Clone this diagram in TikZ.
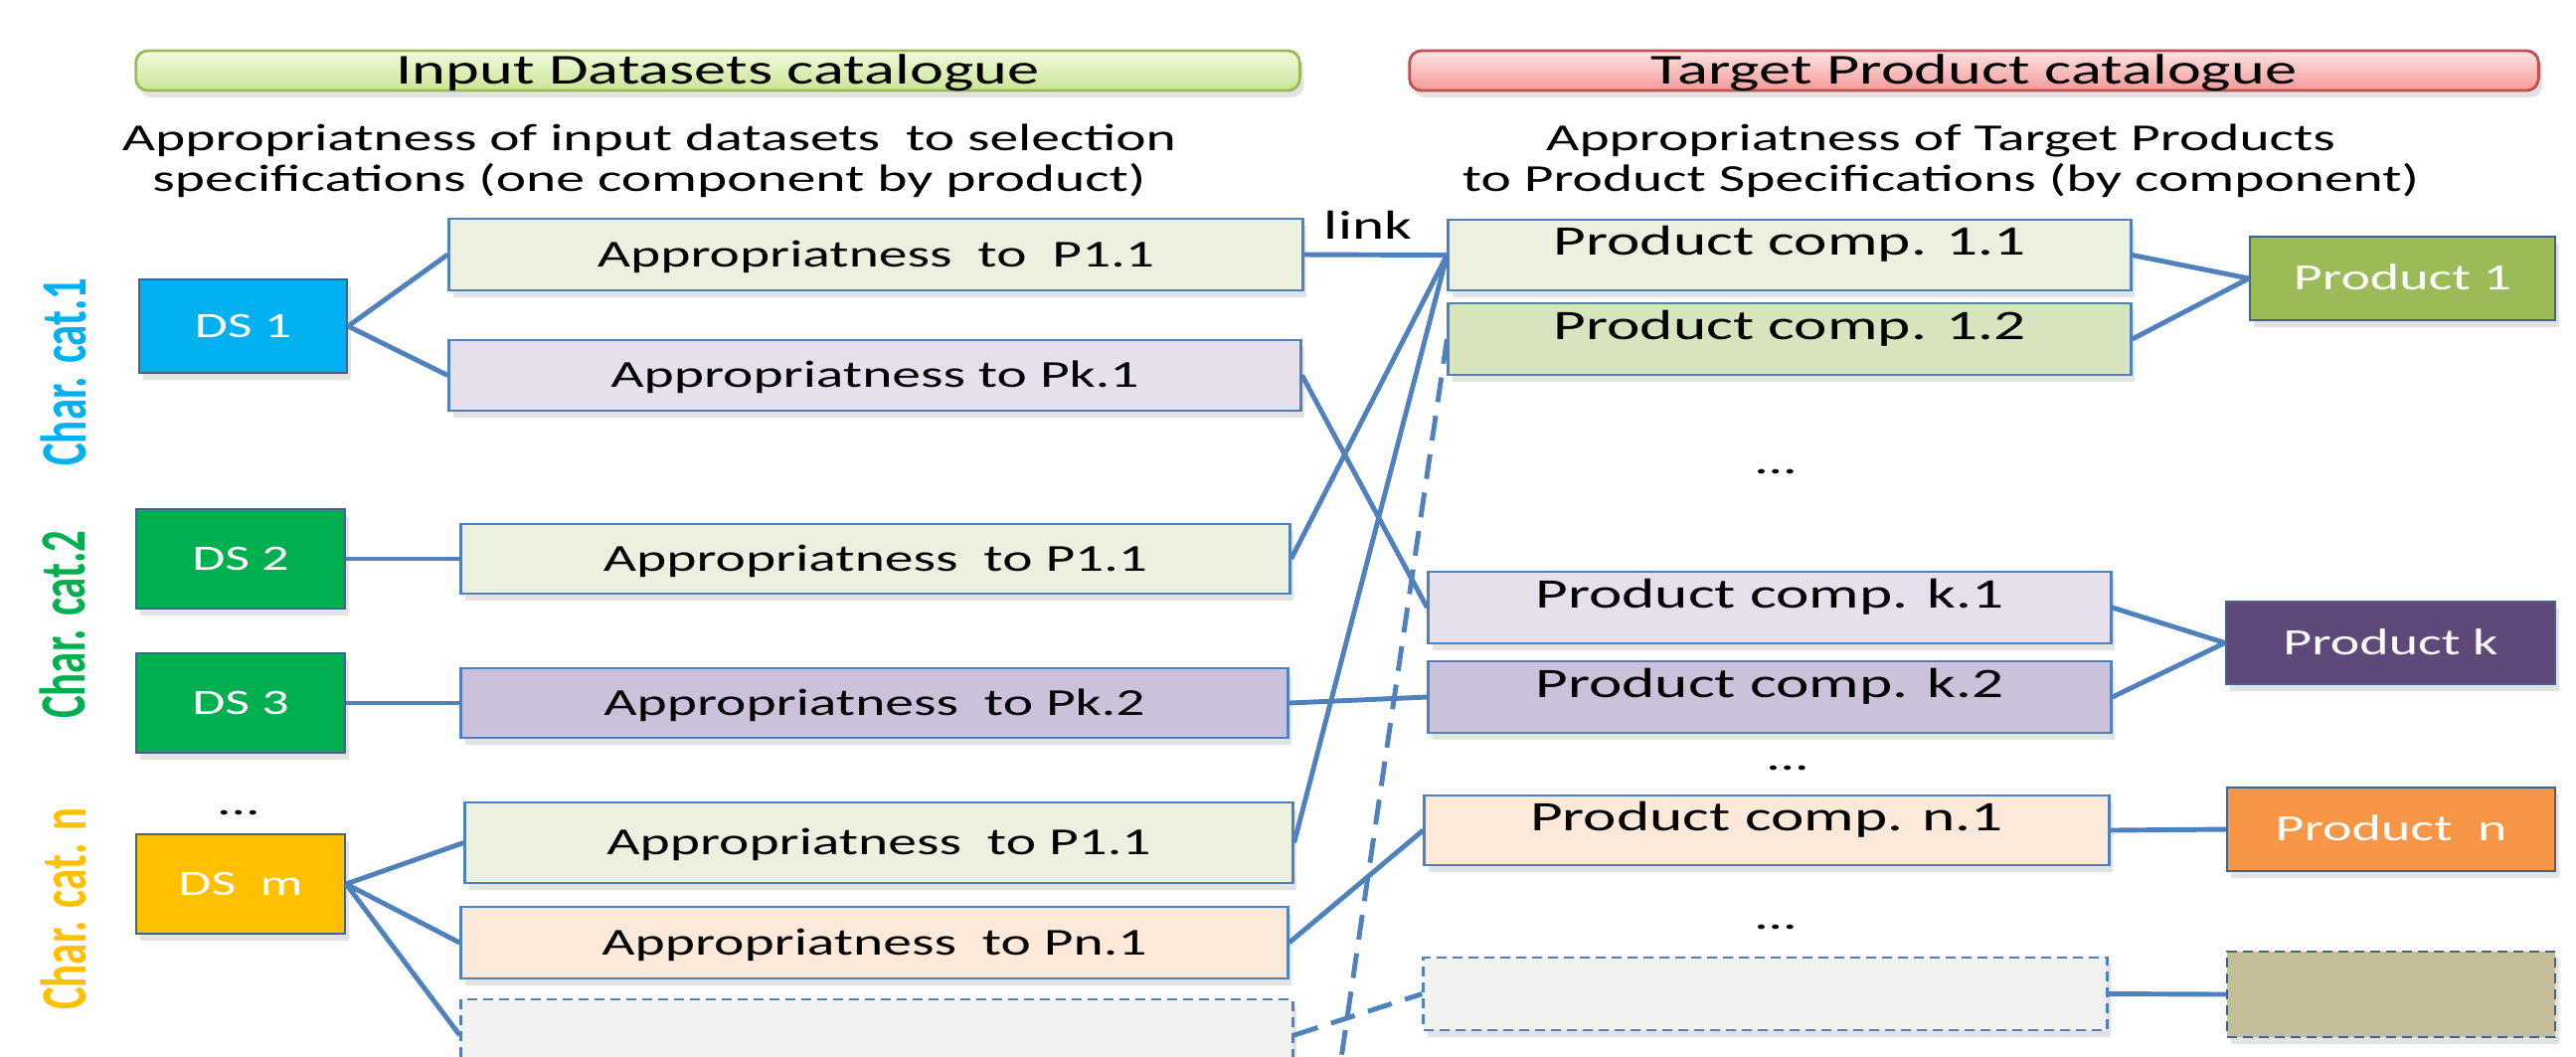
\documentclass[tikz,border=0pt]{standalone}
\usepackage{fontspec}
\setmainfont{Carlito}[FakeStretch=1.5]
\newfontfamily\catfont{Carlito}[FakeStretch=0.66]
\usetikzlibrary{shadows}

\definecolor{lineblue}{HTML}{4F81BD}
\definecolor{darkedge}{HTML}{41648F}
\definecolor{fillgreen}{HTML}{EBF1DE}
\definecolor{fillgreenB}{HTML}{D7E4BD}
\definecolor{filllav}{HTML}{E5E0EC}
\definecolor{fillpurp}{HTML}{CCC1DA}
\definecolor{fillpeach}{HTML}{FDE9D9}
\definecolor{fillgray}{HTML}{F2F2F2}
\definecolor{dsblue}{HTML}{00B0F0}
\definecolor{dsgreen}{HTML}{00B050}
\definecolor{dsyellow}{HTML}{FFC000}
\definecolor{prgreen}{HTML}{9BBB59}
\definecolor{prpurple}{HTML}{5F497A}
\definecolor{prorange}{HTML}{F79646}
\definecolor{prkhaki}{HTML}{C4BD97}
\definecolor{hgTop}{HTML}{F2FADC}
\definecolor{hgBot}{HTML}{C9E596}
\definecolor{hgEdge}{HTML}{9BBB59}
\definecolor{hpTop}{HTML}{FDE3E3}
\definecolor{hpBot}{HTML}{F29A98}
\definecolor{hpEdge}{HTML}{C0504D}

\newcommand\fHead{\fontsize{12.2}{14}\selectfont}
\newcommand\fSub{\fontsize{10.9}{11.7}\selectfont}
\newcommand\fApp{\fontsize{10.9}{12}\selectfont}
\newcommand\fComp{\fontsize{12.0}{14}\selectfont}
\newcommand\fDS{\fontsize{10.2}{12}\selectfont}
\newcommand\fProd{\fontsize{10.6}{12}\selectfont}
\newcommand\fLink{\fontsize{11.6}{13}\selectfont}
\newcommand\fCat{\catfont\bfseries\fontsize{18.5}{20}\selectfont}

\begin{document}
\begin{tikzpicture}[
  x=0.01cm, y=-0.01cm,
  wh/.style 2 args={minimum width=#1cm, minimum height=#2cm},
  shdw/.style={drop shadow={opacity=0.22, shadow xshift=0.4mm, shadow yshift=-0.7mm}},
  hdr/.style={rounded corners=0.12cm, line width=0.8pt, inner sep=0pt,
    font=\fHead, text height=7.7pt, text depth=0pt, shdw},
  appbox/.style={draw=lineblue, line width=0.8pt, inner sep=0pt, font=\fApp,
    text height=6.9pt, text depth=0pt, shdw},
  compbox/.style={draw=lineblue, line width=0.8pt, inner xsep=0pt, inner ysep=0pt,
    font=\fComp, shdw},
  dsbox/.style={draw=darkedge, line width=0.6pt, inner sep=0pt, font=\fDS,
    text=white, text height=6.45pt, text depth=0pt, shdw},
  prodbox/.style={draw=darkedge, line width=0.6pt, inner sep=0pt, font=\fProd,
    text=white, text height=6.7pt, text depth=0pt, shdw},
  dashbox/.style={dash pattern=on 0.1cm off 0.06cm},
  dotsnode/.style={font=\fApp, inner sep=0pt},
  catlabel/.style={font=\fCat, rotate=90, anchor=base, inner sep=0pt},
  conn/.style={draw=lineblue, line width=1.4pt},
  dconn/.style={conn, dash pattern=on 0.25cm off 0.14cm}
]
\useasboundingbox (0,0) rectangle (2591,1062);
\clip (0,0) rectangle (2591,1062);
\fill[white] (0,0) rectangle (2591,1062);

% catalogue headers
\node[hdr, top color=hgTop, bottom color=hgBot, draw=hgEdge, wh={11.70}{0.40}]
  (hdrIn) at (722,71) {Input Datasets catalogue};
\node[hdr, top color=hpTop, bottom color=hpBot, draw=hpEdge, wh={11.35}{0.40}]
  (hdrTg) at (1985.5,71) {Target Product catalogue};

% column descriptions
\node[align=center, font=\fSub, inner sep=0pt] (subIn) at (653,162)
  {Appropriatness of input datasets~ to selection\\specifications (one component by product)};
\node[align=center, font=\fSub, inner sep=0pt] (subTg) at (1952,162)
  {Appropriatness of Target Products\\to Product Specifications (by component)};

% characteristic categories
\node[catlabel, text=dsblue] (cat1) at (87,374) {Char. cat.1};
\node[catlabel, text=dsgreen] (cat2) at (85,628) {Char. cat.2};
\node[catlabel, text=dsyellow] (catn) at (86,914) {Char. cat. n};

% input datasets
\node[dsbox, fill=dsblue, wh={2.09}{0.94}] (ds1) at (244.5,328) {DS 1};
\node[dsbox, fill=dsgreen, wh={2.10}{1.00}] (ds2) at (242,562) {DS 2};
\node[dsbox, fill=dsgreen, wh={2.10}{1.00}] (ds3) at (242,707) {DS 3};
\node[dsbox, fill=dsyellow, wh={2.10}{1.00}] (dsm) at (242,889) {DS~ m};
\node[dotsnode] (dsdots) at (240,817) {...};

% appropriateness to selection specifications
\node[appbox, fill=fillgreen, wh={8.58}{0.72}] (a1) at (881,256) {Appropriatness~ to~ P1.1};
\node[appbox, fill=filllav, wh={8.56}{0.71}] (a2) at (880,377.5) {Appropriatness to Pk.1};
\node[appbox, fill=fillgreen, wh={8.33}{0.70}] (a3) at (880.5,562) {Appropriatness~ to P1.1};
\node[appbox, fill=fillpurp, wh={8.31}{0.70}] (a4) at (879.5,707) {Appropriatness~ to Pk.2};
\node[appbox, fill=fillgreen, wh={8.32}{0.81}] (a5) at (884,847.5) {Appropriatness~ to P1.1};
\node[appbox, fill=fillpeach, wh={8.31}{0.72}] (a6) at (879.5,948) {Appropriatness~ to Pn.1};
\node[appbox, dashbox, fill=fillgray, wh={8.36}{0.72}] (a7) at (882,1041) {};

% product components
\node[compbox, fill=fillgreen, wh={6.86}{0.71}, text height=0.355cm, text depth=0.355cm]
  (pc11) at (1800,256.5) {Product comp. 1.1};
\node[compbox, fill=fillgreenB, wh={6.86}{0.72}, text height=0.36cm, text depth=0.36cm]
  (pc12) at (1800,341) {Product comp. 1.2};
\node[dotsnode] (pcdots1) at (1786,474) {...};
\node[compbox, fill=filllav, wh={6.86}{0.72}, text height=0.36cm, text depth=0.36cm]
  (pck1) at (1780,611) {Product comp. k.1};
\node[compbox, fill=fillpurp, wh={6.86}{0.72}, text height=0.36cm, text depth=0.36cm]
  (pck2) at (1780,701) {Product comp. k.2};
\node[dotsnode] (pcdots2) at (1798,772) {...};
\node[compbox, fill=fillpeach, wh={6.88}{0.70}, text height=0.35cm, text depth=0.35cm]
  (pcn1) at (1777,835) {Product comp. n.1};
\node[dotsnode] (pcdots3) at (1786,932) {...};
\node[compbox, dashbox, fill=fillgray, wh={6.87}{0.73}] (pcx) at (1775.5,999.5) {};

% target products
\node[prodbox, fill=prgreen, wh={3.07}{0.84}] (p1) at (2416.5,280) {Product 1};
\node[prodbox, fill=prpurple, wh={3.31}{0.83}] (pk) at (2404.5,646.5) {Product k};
\node[prodbox, fill=prorange, wh={3.30}{0.84}] (pn) at (2405,834) {Product~ n};
\node[prodbox, dashbox, fill=prkhaki, wh={3.30}{0.86}] (px) at (2405,1000) {};

% link label
\node[font=\fLink, inner sep=0pt] (lnk) at (1376,226) {link};

% datasets to appropriateness
\draw[conn] (ds1.east) -- (a1.west);
\draw[conn] (ds1.east) -- (a2.west);
\draw[conn] (ds2.east) -- (a3.west);
\draw[conn] (ds3.east) -- (a4.west);
\draw[conn] (dsm.east) -- (a5.west);
\draw[conn] (dsm.east) -- (a6.west);
\draw[conn] (dsm.east) -- (a7.west);

% appropriateness to product components
\draw[conn] (a1.east) -- (pc11.west);
\draw[conn] (a3.east) -- (pc11.west);
\draw[conn] (a5.east) -- (pc11.west);
\draw[conn] (a2.east) -- (pck1.west);
\draw[conn] (a4.east) -- (pck2.west);
\draw[conn] (a6.east) -- (pcn1.west);
\draw[dconn] (a7.east) -- (pcx.west);
\coordinate (dashEnd) at (1332,1180);
\draw[dconn] (pc12.west) -- (dashEnd);

% components to products
\draw[conn] (pc11.east) -- (p1.west);
\draw[conn] (pc12.east) -- (p1.west);
\draw[conn] (pck1.east) -- (pk.west);
\draw[conn] (pck2.east) -- (pk.west);
\draw[conn] (pcn1.east) -- (pn.west);
\draw[conn] (pcx.east) -- (px.west);
\end{tikzpicture}
\end{document}
